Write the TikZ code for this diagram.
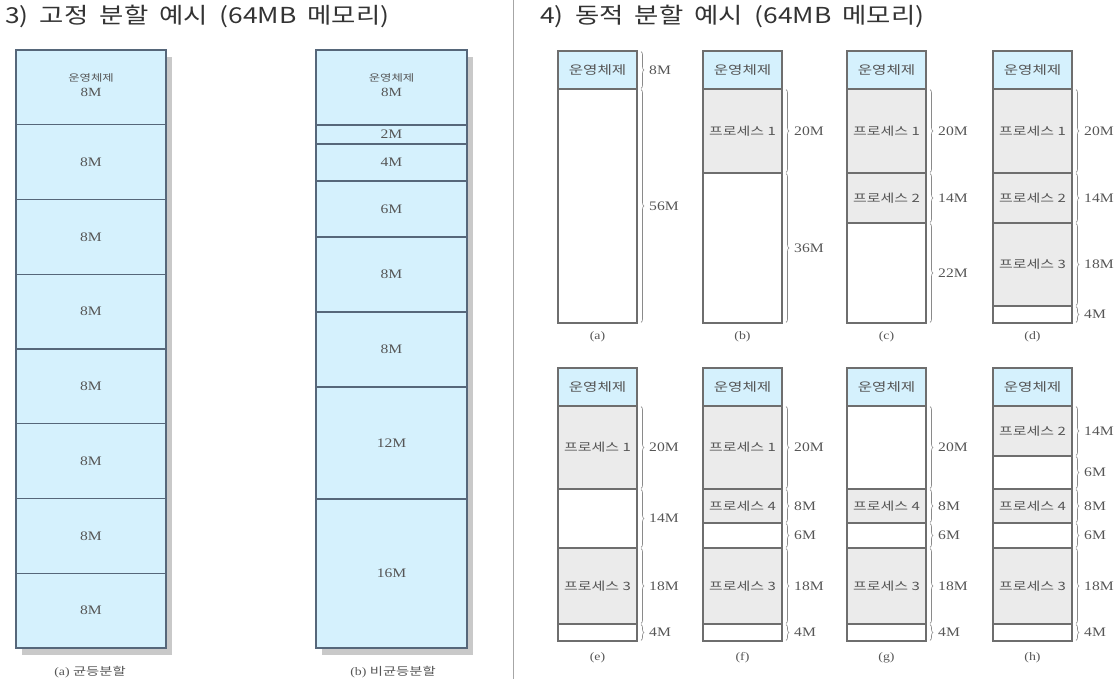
\documentclass[tikz,border=0pt]{standalone}
\usepackage{fontspec}
\setmainfont{Liberation Serif}[FakeStretch=1.2]
\newfontfamily\kr{Noto Sans CJK KR}
\newfontfamily\krw{Noto Sans CJK KR}[FakeStretch=1.3]
\newfontfamily\krt{Noto Sans CJK KR}[FakeStretch=1.2, WordSpace=1.9]
\usetikzlibrary{decorations.pathreplacing}
\definecolor{osblue}{HTML}{D5F1FD}
\definecolor{procgray}{HTML}{EBEBEB}
\definecolor{boxedge}{HTML}{6E6E6E}
\definecolor{leftedge}{HTML}{56677A}
\definecolor{shadowgray}{HTML}{C9C9C9}
\definecolor{lbltxt}{HTML}{555555}
\definecolor{titletxt}{HTML}{333333}
\definecolor{bracegray}{HTML}{8A8A8A}
\newcommand\seg[7]{%
  \pgfmathsetmacro\segw{(#3)-(#2)}%
  \pgfmathsetmacro\segh{(#5)-(#4)}%
  \node[#6, anchor=north west, minimum width=\segw pt, minimum height=\segh pt,
        inner sep=0pt, outer sep=0pt] (#1) at (#2,#4) {#7};}
\newcommand\rseg[6]{\seg{#1}{#2}{#2+79}{#3}{#4}{#5}{#6}}
\newcommand\brc[2]{%
  \draw[bracestyle] ([xshift=4pt,yshift=-0.6pt]#1.north east) -- ([xshift=4pt,yshift=0.6pt]#1.south east);
  \node[numlbl, anchor=west] (#1-l) at ([xshift=12pt]#1.east) {#2};}
\begin{document}
\begin{tikzpicture}[x=1pt,y=-1pt,
  lbox/.style={draw=leftedge, line width=1.1pt, fill=osblue, text=lbltxt, font=\fontsize{13}{14}\selectfont},
  lsh/.style={fill=shadowgray, draw=none},
  osbox/.style={draw=boxedge, line width=1.1pt, fill=osblue, text=lbltxt, font=\krw\fontsize{12}{13}\selectfont},
  procbox/.style={draw=boxedge, line width=1.1pt, fill=procgray, text=lbltxt, font=\krw\fontsize{11.5}{13}\selectfont},
  freebox/.style={draw=boxedge, line width=1.1pt, fill=white},
  bracestyle/.style={draw=bracegray, line width=0.6pt, decorate, decoration={brace, amplitude=3pt}},
  numlbl/.style={text=lbltxt, inner sep=0pt, font=\fontsize{13}{14}\selectfont},
  captxt/.style={text=lbltxt, inner sep=0pt, font=\fontsize{11.5}{12}\selectfont},
  ttl/.style={text=titletxt, inner sep=0pt, anchor=west, font=\krt\fontsize{22}{24}\selectfont}]
\useasboundingbox (0,0) rectangle (1119,679);
% titles
\node[ttl] (t3) at (5,16) {3) 고정 분할 예시 (64MB 메모리)};
\node[ttl] (t4) at (540,16) {4) 동적 분할 예시 (64MB 메모리)};
% separator
\coordinate (sepT) at (513,0);
\coordinate (sepB) at (513,679);
\draw[draw=gray!70, line width=1pt] (sepT) -- (sepB);
% ---------- fixed partition (a)
\fill[lsh] (22,57) rectangle (172,655);
\seg{fa0}{16}{166}{50}{125}{lbox}{}
\node[text=lbltxt, font=\krw\fontsize{9.5}{10}\selectfont, inner sep=0pt] (fa0t) at (91,78) {운영체제};
\node[text=lbltxt, font=\fontsize{12.5}{13}\selectfont, inner sep=0pt] (fa0m) at (91,92) {8M};
\foreach \i in {1,...,7}{
  \pgfmathsetmacro\ya{50+74.75*\i}
  \pgfmathsetmacro\yb{50+74.75*(\i+1)}
  \seg{fa\i}{16}{166}{\ya}{\yb}{lbox}{8M}
}
\node[captxt] (capa) at (90,672) {(a) {\krw\fontsize{11}{12}\selectfont 균등분할}};
% ---------- fixed partition (b)
\fill[lsh] (322,57) rectangle (473,655);
\seg{fb0}{316}{467}{50}{125}{lbox}{}
\node[text=lbltxt, font=\krw\fontsize{9.5}{10}\selectfont, inner sep=0pt] (fb0t) at (391.5,78) {운영체제};
\node[text=lbltxt, font=\fontsize{12.5}{13}\selectfont, inner sep=0pt] (fb0m) at (391.5,92) {8M};
\seg{fb1}{316}{467}{125}{144}{lbox}{2M}
\seg{fb2}{316}{467}{144}{181}{lbox}{4M}
\seg{fb3}{316}{467}{181}{237}{lbox}{6M}
\seg{fb4}{316}{467}{237}{312}{lbox}{8M}
\seg{fb5}{316}{467}{312}{387}{lbox}{8M}
\seg{fb6}{316}{467}{387}{499}{lbox}{12M}
\seg{fb7}{316}{467}{499}{648}{lbox}{16M}
\node[captxt] (capb) at (393,672) {(b) {\krw\fontsize{11}{12}\selectfont 비균등분할}};
% ---------- dynamic (a)
\rseg{da0}{558}{51}{89}{osbox}{운영체제}
\rseg{da1}{558}{89}{323}{freebox}{}
\brc{da0}{8M}\brc{da1}{56M}
\node[captxt] (capda) at (597.5,337) {(a)};
% (b)
\rseg{db0}{703}{51}{89}{osbox}{운영체제}
\rseg{db1}{703}{89}{173}{procbox}{프로세스 1}
\rseg{db2}{703}{173}{323}{freebox}{}
\brc{db1}{20M}\brc{db2}{36M}
\node[captxt] (capdb) at (742.5,337) {(b)};
% (c)
\rseg{dc0}{847}{51}{89}{osbox}{운영체제}
\rseg{dc1}{847}{89}{173}{procbox}{프로세스 1}
\rseg{dc2}{847}{173}{223}{procbox}{프로세스 2}
\rseg{dc3}{847}{223}{323}{freebox}{}
\brc{dc1}{20M}\brc{dc2}{14M}\brc{dc3}{22M}
\node[captxt] (capdc) at (886.5,337) {(c)};
% (d)
\rseg{dd0}{993}{51}{89}{osbox}{운영체제}
\rseg{dd1}{993}{89}{173}{procbox}{프로세스 1}
\rseg{dd2}{993}{173}{223}{procbox}{프로세스 2}
\rseg{dd3}{993}{223}{306}{procbox}{프로세스 3}
\rseg{dd4}{993}{306}{323}{freebox}{}
\brc{dd1}{20M}\brc{dd2}{14M}\brc{dd3}{18M}\brc{dd4}{4M}
\node[captxt] (capdd) at (1032.5,337) {(d)};
% (e)
\rseg{de0}{558}{368}{406}{osbox}{운영체제}
\rseg{de1}{558}{406}{489}{procbox}{프로세스 1}
\rseg{de2}{558}{489}{548}{freebox}{}
\rseg{de3}{558}{548}{624}{procbox}{프로세스 3}
\rseg{de4}{558}{624}{641}{freebox}{}
\brc{de1}{20M}\brc{de2}{14M}\brc{de3}{18M}\brc{de4}{4M}
\node[captxt] (capde) at (597.5,658) {(e)};
% (f)
\rseg{df0}{703}{368}{406}{osbox}{운영체제}
\rseg{df1}{703}{406}{489}{procbox}{프로세스 1}
\rseg{df2}{703}{489}{523}{procbox}{프로세스 4}
\rseg{df3}{703}{523}{548}{freebox}{}
\rseg{df4}{703}{548}{624}{procbox}{프로세스 3}
\rseg{df5}{703}{624}{641}{freebox}{}
\brc{df1}{20M}\brc{df2}{8M}\brc{df3}{6M}\brc{df4}{18M}\brc{df5}{4M}
\node[captxt] (capdf) at (742.5,658) {(f)};
% (g)
\rseg{dg0}{847}{368}{406}{osbox}{운영체제}
\rseg{dg1}{847}{406}{489}{freebox}{}
\rseg{dg2}{847}{489}{523}{procbox}{프로세스 4}
\rseg{dg3}{847}{523}{548}{freebox}{}
\rseg{dg4}{847}{548}{624}{procbox}{프로세스 3}
\rseg{dg5}{847}{624}{641}{freebox}{}
\brc{dg1}{20M}\brc{dg2}{8M}\brc{dg3}{6M}\brc{dg4}{18M}\brc{dg5}{4M}
\node[captxt] (capdg) at (886.5,658) {(g)};
% (h)
\rseg{dh0}{993}{368}{406}{osbox}{운영체제}
\rseg{dh1}{993}{406}{456}{procbox}{프로세스 2}
\rseg{dh2}{993}{456}{489}{freebox}{}
\rseg{dh3}{993}{489}{523}{procbox}{프로세스 4}
\rseg{dh4}{993}{523}{548}{freebox}{}
\rseg{dh5}{993}{548}{624}{procbox}{프로세스 3}
\rseg{dh6}{993}{624}{641}{freebox}{}
\brc{dh1}{14M}\brc{dh2}{6M}\brc{dh3}{8M}\brc{dh4}{6M}\brc{dh5}{18M}\brc{dh6}{4M}
\node[captxt] (capdh) at (1032.5,658) {(h)};
\end{tikzpicture}
\end{document}
